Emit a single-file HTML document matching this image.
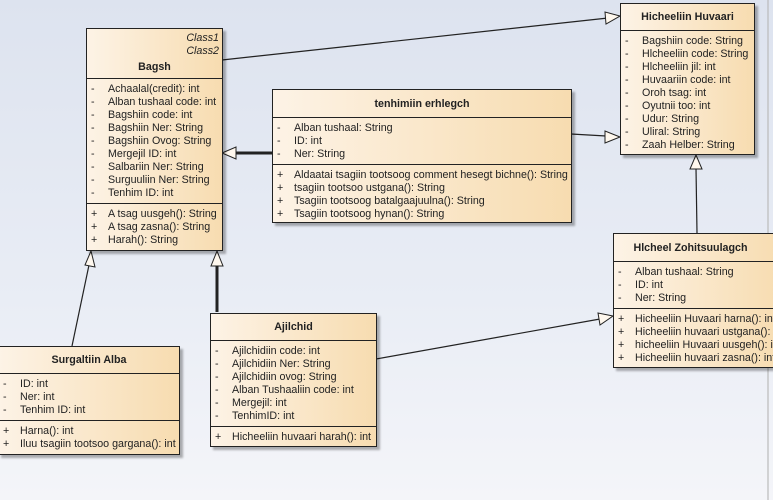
<!DOCTYPE html>
<html><head><meta charset="utf-8"><style>
body{margin:0;width:773px;height:500px;overflow:hidden;background:linear-gradient(#dde3ef,#e9edf5 60%,#f4f5f9);font-family:"Liberation Sans",sans-serif;font-size:10.7px;color:#222;position:relative}
.b{position:absolute;border:1px solid #222;background:linear-gradient(90deg,#fdf3e6,#f7dcb0);box-shadow:3px 3px 2px rgba(0,0,0,.3);box-sizing:border-box}
.h{border-bottom:1px solid #222;text-align:center;font-weight:bold;box-sizing:border-box}
.s{border-bottom:1px solid #222;padding:4px 0 3px 0}
.s:last-child{border-bottom:none}
.r{height:13px;line-height:13px;white-space:nowrap;position:relative;padding-left:21px}
.r i{font-style:normal;position:absolute;left:4px}
svg{position:absolute;left:0;top:0}
</style></head><body>
<svg width="773" height="500">
<g stroke="#222" stroke-width="1.2" fill="none">
<line x1="222" y1="60" x2="608" y2="18"/>
<line x1="571" y1="134" x2="606" y2="136"/>
<line x1="236" y1="153" x2="272" y2="153" stroke-width="3"/>
<line x1="697" y1="233" x2="696" y2="168"/>
<line x1="72" y1="346" x2="89" y2="265"/>
<line x1="217" y1="312" x2="217" y2="266" stroke-width="3"/>
<line x1="376" y1="359" x2="600" y2="319"/>
<line x1="768" y1="0" x2="768" y2="500" stroke="#bbb"/>
</g>
<g stroke="#222" stroke-width="1" fill="#fff8ee">
<polygon points="620,16 605,12 606,24"/>
<polygon points="620,137 605,131 605,143"/>
<polygon points="222,153 236,147 236,159"/>
<polygon points="696,155 690,169 702,169"/>
<polygon points="91,251 85,265 95,267"/>
<polygon points="217,251 211,266 223,266"/>
<polygon points="613,316 598,313 600,325"/>
</g>
</svg>

<div class="b" style="left:86px;top:28px;width:137px;height:223px">
<div class="h" style="height:50px;position:relative"><div style="position:absolute;right:3px;top:3px;font-style:italic;font-weight:normal;text-align:right;line-height:13px">Class1<br>Class2</div><div style="position:absolute;left:0;right:0;top:32px">Bagsh</div></div>
<div class="s"><div class="r"><i>-</i>Achaalal(credit): int</div><div class="r"><i>-</i>Alban tushaal code: int</div><div class="r"><i>-</i>Bagshiin code: int</div><div class="r"><i>-</i>Bagshiin Ner: String</div><div class="r"><i>-</i>Bagshiin Ovog: String</div><div class="r"><i>-</i>Mergejil ID: int</div><div class="r"><i>-</i>Salbariin Ner: String</div><div class="r"><i>-</i>Surguuliin Ner: String</div><div class="r"><i>-</i>Tenhim ID: int</div></div>
<div class="s"><div class="r"><i>+</i>A tsag uusgeh(): String</div><div class="r"><i>+</i>A tsag zasna(): String</div><div class="r"><i>+</i>Harah(): String</div></div>
</div>

<div class="b" style="left:272px;top:89px;width:300px;height:134px">
<div class="h" style="height:28px;line-height:28px">tenhimiin erhlegch</div>
<div class="s"><div class="r"><i>-</i>Alban tushaal: String</div><div class="r"><i>-</i>ID: int</div><div class="r"><i>-</i>Ner: String</div></div>
<div class="s"><div class="r"><i>+</i>Aldaatai tsagiin tootsoog comment hesegt bichne(): String</div><div class="r"><i>+</i>tsagiin tootsoo ustgana(): String</div><div class="r"><i>+</i>Tsagiin tootsoog batalgaajuulna(): String</div><div class="r"><i>+</i>Tsagiin tootsoog hynan(): String</div></div>
</div>

<div class="b" style="left:620px;top:3px;width:135px;height:152px">
<div class="h" style="height:27px;line-height:27px">Hicheeliin Huvaari</div>
<div class="s"><div class="r"><i>-</i>Bagshiin code: String</div><div class="r"><i>-</i>Hlcheeliin code: String</div><div class="r"><i>-</i>Hlcheeliin jil: int</div><div class="r"><i>-</i>Huvaariin code: int</div><div class="r"><i>-</i>Oroh tsag: int</div><div class="r"><i>-</i>Oyutnii too: int</div><div class="r"><i>-</i>Udur: String</div><div class="r"><i>-</i>Uliral: String</div><div class="r"><i>-</i>Zaah Helber: String</div></div>
</div>

<div class="b" style="left:613px;top:233px;width:170px;height:135px;overflow:hidden">
<div class="h" style="height:28px;line-height:28px;padding-right:15px">Hlcheel Zohitsuulagch</div>
<div class="s"><div class="r"><i>-</i>Alban tushaal: String</div><div class="r"><i>-</i>ID: int</div><div class="r"><i>-</i>Ner: String</div></div>
<div class="s"><div class="r"><i>+</i>Hicheeliin Huvaari harna(): int</div><div class="r"><i>+</i>Hicheeliin huvaari ustgana(): int</div><div class="r"><i>+</i>hicheeliin Huvaari uusgeh(): int</div><div class="r"><i>+</i>Hicheeliin huvaari zasna(): int</div></div>
</div>

<div class="b" style="left:-2px;top:346px;width:182px;height:109px">
<div class="h" style="height:27px;line-height:27px">Surgaltiin Alba</div>
<div class="s"><div class="r"><i>-</i>ID: int</div><div class="r"><i>-</i>Ner: int</div><div class="r"><i>-</i>Tenhim ID: int</div></div>
<div class="s"><div class="r"><i>+</i>Harna(): int</div><div class="r"><i>+</i>Iluu tsagiin tootsoo gargana(): int</div></div>
</div>

<div class="b" style="left:210px;top:313px;width:167px;height:134px">
<div class="h" style="height:27px;line-height:27px">Ajilchid</div>
<div class="s"><div class="r"><i>-</i>Ajilchidiin code: int</div><div class="r"><i>-</i>Ajilchidiin Ner: String</div><div class="r"><i>-</i>Ajilchidiin ovog: String</div><div class="r"><i>-</i>Alban Tushaaliin code: int</div><div class="r"><i>-</i>Mergejil: int</div><div class="r"><i>-</i>TenhimID: int</div></div>
<div class="s"><div class="r"><i>+</i>Hicheeliin huvaari harah(): int</div></div>
</div>
</body></html>
